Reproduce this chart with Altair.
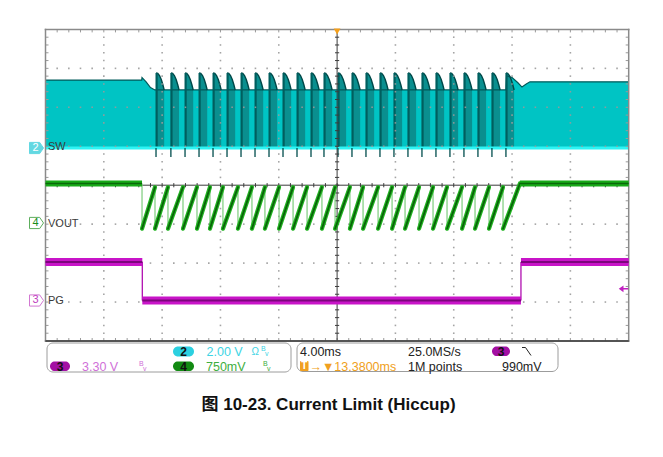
import altair as alt
import pandas as pd

# ---------------- values ----------------
N_HDIV, N_VDIV = 10, 8
MS_PER_DIV = 4.0                    # 4.00 ms/div

SW_VDIV, SW_GND = 2.00, 0.955       # ch2 : V/div, ground marker (div from centre)
VOUT_VDIV, VOUT_GND = 0.75, -0.97   # ch4
PG_VDIV, PG_GND = 3.30, -2.96       # ch3
TRIG_LEVEL_V = 0.99                 # ch3 trigger level
TRIG_POS_MS = 20.0

# SW node band envelope: time (ms) -> top edge (V); bottom edge at 0 V
sw_env_t   = [0.0, 6.60, 6.62, 6.90, 7.20, 7.50, 31.58, 31.62, 32.00, 32.40, 32.68, 33.00, 33.23, 40.0]
sw_env_top = [3.49, 3.49, 3.62, 3.40, 3.10, 2.98, 2.98, 3.70, 3.62, 3.35, 3.13, 3.30, 3.40, 3.40]
# SW hiccup bursts (start, ms)
sw_burst_t = [7.58, 8.60, 9.57, 10.53, 11.49, 12.45, 13.41, 14.37, 15.33, 16.29, 17.25, 18.21, 19.10,
              20.06, 21.02, 21.98, 22.94, 23.90, 24.86, 25.82, 26.78, 27.74, 28.70, 29.66, 30.62, 31.58]
# top edge of one burst: offset (ms) -> V
sw_burst_dt  = [0.00, 0.12, 0.24, 0.36, 0.47, 0.56]
sw_burst_top = [3.85, 3.83, 3.72, 3.52, 3.25, 2.98]
SW_BURST_DIP_V = -0.46

# VOUT sawtooth: fall instants (ms)
vout_fall_t = [7.51, 8.40, 9.43, 10.39, 11.28, 12.17, 13.20, 14.16, 15.05, 16.02, 16.98, 17.94, 18.96,
               19.86, 20.88, 21.78, 22.81, 23.77, 24.66, 25.62, 26.58, 27.54, 28.57, 29.46, 30.42, 31.38]
VOUT_DROP_T, VOUT_RECOVER_T = 6.62, 32.54
VOUT_HIGH_V, VOUT_PEAK_V, VOUT_LOW_V = 0.76, 0.69, -0.11

# PG
PG_FALL_T, PG_RISE_T = 6.64, 32.61
PG_HIGH_V, PG_LOW_V = 3.27, 0.0

channel_names = ["SW", "VOUT", "PG"]
status_texts = ["2.00 V", "3.30 V", "750mV", "4.00ms", "25.0MS/s", "1M points", "990mV", "→▼13.3800ms"]
title_text = "图 10-23. Current Limit (Hiccup)"

# ---------------- layout ----------------
PLOT_L, PLOT_R, PLOT_T, PLOT_B = 45.5, 628.7, 29.4, 341.0
W, H = 647, 441
T_END = N_HDIV * MS_PER_DIV


def X(px):
    return (px - PLOT_L) * T_END / (PLOT_R - PLOT_L)


def Y(py):
    return N_VDIV / 2 - (py - PLOT_T) * N_VDIV / (PLOT_B - PLOT_T)


xs = alt.Scale(domain=[X(8), X(8 + W)], nice=False, zero=False)
ys = alt.Scale(domain=[Y(8 + H), Y(8)], nice=False, zero=False)


def sw(v):
    return SW_GND + v / SW_VDIV


def vo(v):
    return VOUT_GND + v / VOUT_VDIV


def pg(v):
    return PG_GND + v / PG_VDIV


def enc_xy(ch):
    return ch.encode(x=alt.X("x:Q", scale=xs, axis=None), y=alt.Y("y:Q", scale=ys, axis=None))


def seg_layer(rows, color, width, cap="butt"):
    df = pd.DataFrame(rows, columns=["x", "y", "x2", "y2"])
    return alt.Chart(df).mark_rule(color=color, strokeWidth=width, strokeCap=cap).encode(
        x=alt.X("x:Q", scale=xs, axis=None), y=alt.Y("y:Q", scale=ys, axis=None),
        x2="x2:Q", y2="y2:Q")


def rect_layer(rows, **kw):
    df = pd.DataFrame(rows, columns=["x", "x2", "y", "y2", "c"])
    return alt.Chart(df).mark_rect(**kw).encode(
        x=alt.X("x:Q", scale=xs, axis=None), x2="x2:Q",
        y=alt.Y("y:Q", scale=ys, axis=None), y2="y2:Q",
        fill=alt.Fill("c:N", scale=None))


def text_layer(rows, align="left", font="Liberation Sans", weight="normal"):
    df = pd.DataFrame(rows, columns=["x", "y", "t", "c", "s"])
    return alt.Chart(df).mark_text(align=align, baseline="middle", font=font, fontWeight=weight).encode(
        x=alt.X("x:Q", scale=xs, axis=None), y=alt.Y("y:Q", scale=ys, axis=None),
        text="t:N", color=alt.Color("c:N", scale=None), size=alt.Size("s:Q", scale=None))


layers = []

# ---- SW trace ----
env = pd.DataFrame({"x": sw_env_t, "y": [sw(v) for v in sw_env_top], "b": SW_GND})
layers.append(alt.Chart(env).mark_area(color="#00c4c4").encode(
    x=alt.X("x:Q", scale=xs, axis=None), y=alt.Y("y:Q", scale=ys, axis=None), y2="b:Q"))
brows = []
for i, t in enumerate(sw_burst_t):
    for dt, v in zip(sw_burst_dt, sw_burst_top):
        brows.append({"id": i, "x": t + dt, "y": sw(v), "b": SW_GND})
bdf = pd.DataFrame(brows)
layers.append(alt.Chart(bdf).mark_area(color="#0a8f8f").encode(
    x=alt.X("x:Q", scale=xs, axis=None), y=alt.Y("y:Q", scale=ys, axis=None), y2="b:Q", detail="id:N"))
layers.append(alt.Chart(env).mark_line(color="#005a5a", strokeWidth=1.2).encode(
    x=alt.X("x:Q", scale=xs, axis=None), y=alt.Y("y:Q", scale=ys, axis=None)))
layers.append(alt.Chart(bdf).mark_line(color="#004848", strokeWidth=1.4).encode(
    x=alt.X("x:Q", scale=xs, axis=None), y=alt.Y("y:Q", scale=ys, axis=None), detail="id:N"))
layers.append(seg_layer([(t + 0.04, SW_GND, t + 0.04, sw(sw_burst_top[0])) for t in sw_burst_t], "#005e5e", 2.2))
layers.append(seg_layer([(0, SW_GND, T_END, SW_GND)], "#2ef4f4", 3))
layers.append(seg_layer([(t, sw(SW_BURST_DIP_V), t, SW_GND) for t in sw_burst_t], "#004c4c", 1.3))

# ---- graticule ----
dots = []
for i in range(1, 50):
    for j in [-3, -2, -1, 1, 2, 3]:
        dots.append((i * 0.8, j))
for k in [1, 2, 3, 4, 6, 7, 8, 9]:
    for m in range(-19, 20):
        if m % 5:
            dots.append((k * 4.0, m * 0.2))
layers.append(enc_xy(alt.Chart(pd.DataFrame(dots, columns=["x", "y"])).mark_square(
    size=2.5, color="#9a9a9a", opacity=0.9)))
tx, ty = X(PLOT_L + 3) - X(PLOT_L), Y(PLOT_T) - Y(PLOT_T + 3)
ticks = []
for i in range(1, 50):
    ticks.append((i * 0.8, 4, i * 0.8, 4 - ty))
    ticks.append((i * 0.8, -4, i * 0.8, -4 + ty))
for m in range(-19, 20):
    ticks.append((0, m * 0.2, tx, m * 0.2))
    ticks.append((T_END, m * 0.2, T_END - tx, m * 0.2))
layers.append(seg_layer(ticks, "#9a9a9a", 1))
cross = [(0, 0, T_END, 0), (TRIG_POS_MS, -4, TRIG_POS_MS, 4)]
for i in range(1, 50):
    cross.append((i * 0.8, -ty * 0.7, i * 0.8, ty * 0.7))
for m in range(-19, 20):
    cross.append((TRIG_POS_MS - tx * 0.7, m * 0.2, TRIG_POS_MS + tx * 0.7, m * 0.2))
layers.append(seg_layer(cross, "#3c3c3c", 1))
layers.append(seg_layer([(0, -4, T_END, -4), (0, 4, T_END, 4), (0, -4, 0, 4), (T_END, -4, T_END, 4)],
                        "#8a8a8a", 1.5, cap="square"))
layers.append(seg_layer([(0, -4, T_END, -4)], "#3a3a3a", 1.5))

# ---- VOUT trace ----
flat = [(0, vo(VOUT_HIGH_V), VOUT_DROP_T, vo(VOUT_HIGH_V)),
        (VOUT_RECOVER_T, vo(VOUT_HIGH_V), T_END, vo(VOUT_HIGH_V))]
thin = [(VOUT_DROP_T, vo(VOUT_HIGH_V), VOUT_DROP_T, vo(VOUT_LOW_V))]
ramps = []
prev = VOUT_DROP_T
for t in vout_fall_t:
    ramps.append((prev, vo(VOUT_LOW_V), t, vo(VOUT_PEAK_V)))
    thin.append((t, vo(VOUT_PEAK_V), t, vo(VOUT_LOW_V)))
    prev = t
ramps.append((prev, vo(VOUT_LOW_V), VOUT_RECOVER_T, vo(VOUT_HIGH_V)))
layers.append(seg_layer(thin, "#7ccc7c", 1.2))
layers.append(seg_layer(ramps, "#22b422", 4.2, cap="round"))
layers.append(seg_layer(ramps, "#0a640a", 1.8, cap="round"))
layers.append(seg_layer(flat, "#18aa18", 6))
layers.append(seg_layer(flat, "#0a680a", 1.5))

# ---- PG trace ----
pg_h = [(0, pg(PG_HIGH_V), PG_FALL_T, pg(PG_HIGH_V)), (PG_FALL_T, pg(PG_LOW_V), PG_RISE_T, pg(PG_LOW_V)),
        (PG_RISE_T, pg(PG_HIGH_V), T_END, pg(PG_HIGH_V))]
pg_v = [(PG_FALL_T, pg(PG_HIGH_V), PG_FALL_T, pg(PG_LOW_V)), (PG_RISE_T, pg(PG_LOW_V), PG_RISE_T, pg(PG_HIGH_V))]
layers.append(seg_layer(pg_v, "#b010b0", 1.3))
layers.append(seg_layer(pg_h, "#c814c8", 8))
layers.append(seg_layer(pg_h, "#7c067c", 2))

# ---- markers ----
arrow = "M-1,-0.8L0.45,-0.8L1,0L0.45,0.8L-1,0.8Z"
mk = pd.DataFrame({"x": [X(36.5)] * 3, "y": [SW_GND, VOUT_GND, PG_GND],
                   "f": ["#22c8d6", "#ffffff", "#ffffff"], "s": ["#22c8d6", "#1a8c1a", "#c040c0"]})
layers.append(alt.Chart(mk).mark_point(shape=arrow, size=196, filled=True, strokeWidth=1).encode(
    x=alt.X("x:Q", scale=xs, axis=None), y=alt.Y("y:Q", scale=ys, axis=None),
    fill=alt.Fill("f:N", scale=None), stroke=alt.Stroke("s:N", scale=None)))
layers.append(text_layer([(X(35.5), SW_GND, "2", "#ffffff", 11), (X(35.5), VOUT_GND, "4", "#1a8c1a", 11),
                          (X(35.5), PG_GND, "3", "#c040c0", 11)], align="center"))
layers.append(text_layer([(X(48), Y(147), channel_names[0], "#3a3a3a", 11),
                          (X(48), Y(223.5), channel_names[1], "#3a3a3a", 11),
                          (X(48), Y(301), channel_names[2], "#3a3a3a", 11)]))
layers.append(enc_xy(alt.Chart(pd.DataFrame({"x": [TRIG_POS_MS], "y": [Y(31.5)]})).mark_point(
    shape="triangle-down", size=45, filled=True, color="#f5a01a", opacity=1)))
layers.append(enc_xy(alt.Chart(pd.DataFrame({"x": [X(623.5)], "y": [pg(TRIG_LEVEL_V)]})).mark_point(
    shape="M-1,0L0,-0.7L0,-0.15L1,-0.15L1,0.15L0,0.15L0,0.7Z", size=90, filled=True, color="#c020c0",
    opacity=1)))

# ---- status bar ----
layers.append(rect_layer([(X(47), X(291), Y(343), Y(372), "#ffffff"), (X(297), X(558), Y(343), Y(371.5), "#ffffff")],
                         stroke="#9c9c9c", strokeWidth=1, cornerRadius=6))
layers.append(rect_layer([(X(173), X(194), Y(346.5), Y(356.5), "#2bd0e0"),
                          (X(50), X(70), Y(361.5), Y(371), "#a30fa3"),
                          (X(173), X(194), Y(361.5), Y(371), "#128a12"),
                          (X(492), X(510), Y(346.5), Y(356), "#a30fa3")], cornerRadius=5))
layers.append(rect_layer([(X(300), X(308.5), Y(361), Y(371), "#f0a020")], cornerRadius=1))
layers.append(text_layer([(X(183.5), Y(352), "2", "#111111", 12), (X(60), Y(366.5), "3", "#111111", 12),
                          (X(183.5), Y(366.5), "4", "#111111", 12), (X(501), Y(351.5), "3", "#111111", 12),
                          (X(304.3), Y(366.3), "T", "#ffffff", 10)], align="center", weight="bold"))
layers.append(text_layer([(X(206.5), Y(351.5), status_texts[0], "#3cd4e4", 12.5),
                          (X(82), Y(366.5), status_texts[1], "#d070d8", 12.5),
                          (X(206), Y(366.5), status_texts[2], "#3eae3e", 12.5),
                          (X(300), Y(351.5), status_texts[3], "#222222", 12.5),
                          (X(408), Y(351.5), status_texts[4], "#222222", 12.5),
                          (X(408), Y(366.5), status_texts[5], "#222222", 12.5),
                          (X(502), Y(366.5), status_texts[6], "#222222", 12.5),
                          (X(309.5), Y(366.5), status_texts[7], "#f0a020", 12.5),
                          (X(251.5), Y(351.5), "Ω", "#3cd4e4", 10),
                          (X(261), Y(349), "B", "#3cd4e4", 7), (X(265), Y(353.5), "v", "#3cd4e4", 7),
                          (X(139), Y(364), "B", "#d070d8", 7), (X(143), Y(368.5), "v", "#d070d8", 7),
                          (X(263), Y(364), "B", "#3eae3e", 7), (X(267), Y(368.5), "v", "#3eae3e", 7)]))
layers.append(seg_layer([(X(522), Y(347.5), X(525.5), Y(347.5)), (X(525.5), Y(347.5), X(531), Y(355.5))],
                        "#222222", 1))

# ---- caption ----
layers.append(text_layer([(X(328.5), Y(404.5), title_text, "#111111", 17)], align="center",
                         font="Liberation Sans, Noto Sans CJK SC", weight="bold"))

chart = alt.layer(*layers).properties(
    width=W, height=H, padding=0, autosize=alt.AutoSizeParams(type="none"), background="white"
).configure_view(stroke=None)

chart.save("out.html", embed_options={"renderer": "svg", "actions": False})
